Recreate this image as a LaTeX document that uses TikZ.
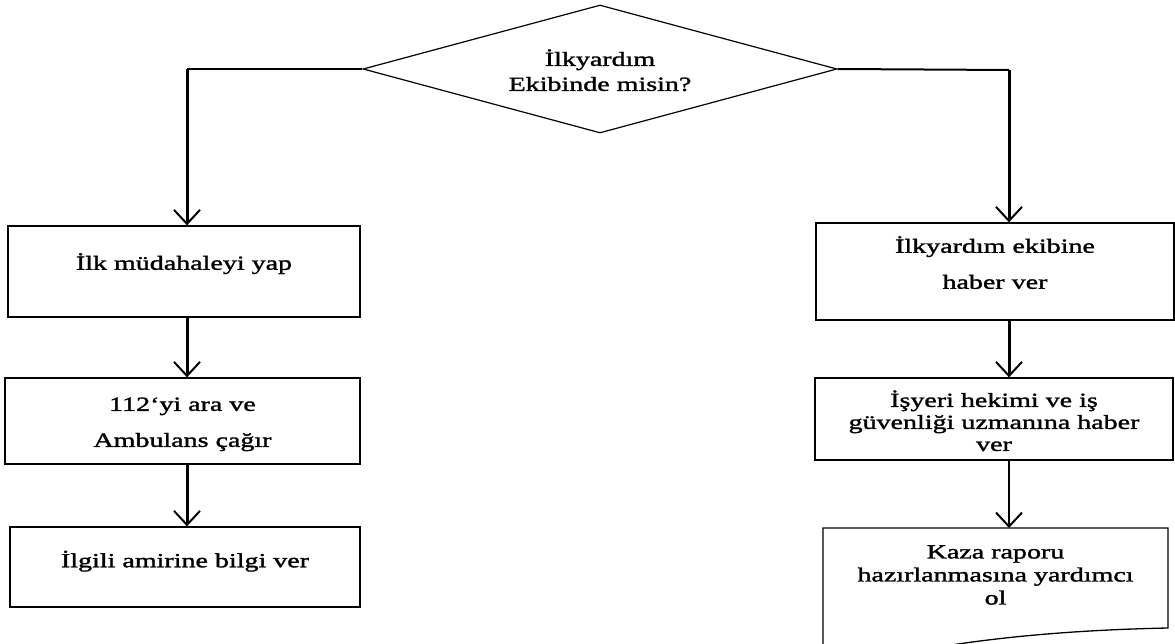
\documentclass[tikz,border=0pt]{standalone}
\usepackage{fontspec}
\setmainfont{Liberation Serif}[FakeStretch=1.4, FakeBold=1.6]
\usetikzlibrary{arrows.meta,shapes.geometric}

\tikzset{
  box/.style={draw, line width=1.3pt, rectangle, align=center, inner sep=0pt,
    font=\fontsize{20}{22}\selectfont},
  decision/.style={draw, diamond, aspect=3.7, line width=1.2pt, minimum width=474pt,
    minimum height=128pt, inner sep=0pt, align=center, font=\fontsize{20}{25}\selectfont},
  flow/.style={line width=3pt, -{Straight Barb[length=14pt,width=26pt,line width=2pt]}},
  thinflow/.style={flow, line width=2pt},
  hline/.style={line width=2pt}
}

\begin{document}
\begin{tikzpicture}[x=1pt,y=-1pt]
\clip (0,0) rectangle (1175,644);

% question
\node[decision] (ask) at (600,69) {\\[-6pt]İlkyardım\\Ekibinde misin?};
\coordinate (laxis) at (187,69);
\coordinate (raxis) at (1009,70);

% left column
\node[box, minimum width=352pt, minimum height=91pt, text depth=20pt] (yap) at (184,271.5) {İlk müdahaleyi yap};
\node[box, minimum width=355pt, minimum height=86pt] (ara) at (182.5,421) {\\[-2pt]112`yi ara ve\\[14pt]Ambulans çağır};
\node[box, minimum width=350pt, minimum height=80pt, text depth=16pt] (amir) at (185,567) {İlgili amirine bilgi ver};

% right column
\node[box, minimum width=358pt, minimum height=97pt] (ekip) at (995,271.5) {İlkyardım ekibine\\[14pt]haber ver\\[-4pt]};
\node[box, minimum width=358pt, minimum height=82pt] (hekim) at (994,419) {\\[-2pt]İşyeri hekimi ve iş\\güvenliği uzmanına haber\\ver};
\node[align=center, inner sep=0pt, font=\fontsize{20}{23}\selectfont] (rapor) at (995.5,575) {Kaza raporu\\hazırlanmasına yardımcı\\ol};
\draw[line width=1.3pt] (823,528) -- (1168,528) -- (1168,628)
  .. controls (1070,630) and (980,638) .. (900,654)
  .. controls (860,662) and (840,664) .. (823,664) -- cycle;
\coordinate (rtop) at (995.5,528);

% connectors
\draw[hline] (ask.west) -- (laxis);
\draw[flow] (laxis) -- (laxis |- yap.north);
\draw[hline] (ask.east) -- (raxis);
\draw[flow] (raxis) -- (raxis |- ekip.north);
\draw[flow] (laxis |- yap.south) -- (laxis |- ara.north);
\draw[flow] (laxis |- ara.south) -- (laxis |- amir.north);
\draw[flow] (raxis |- ekip.south) -- (raxis |- hekim.north);
\draw[thinflow] (raxis |- hekim.south) -- (raxis |- rtop);
\end{tikzpicture}
\end{document}
